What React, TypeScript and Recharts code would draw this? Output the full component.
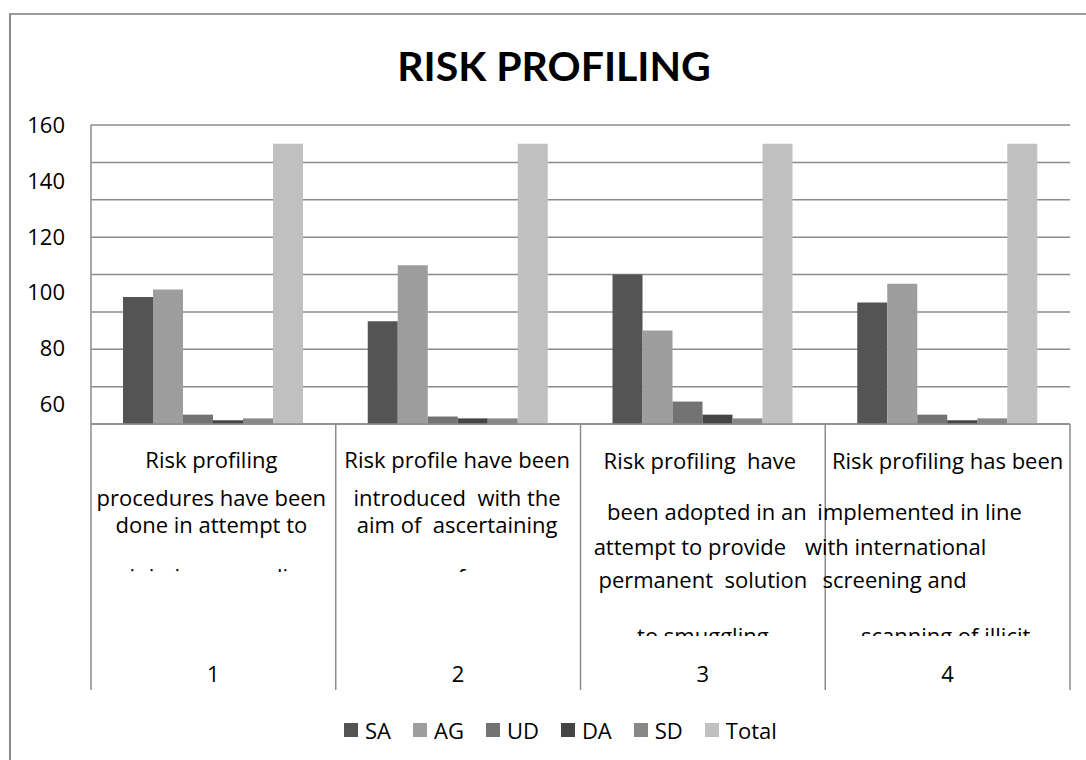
import React from "react";
import {
  BarChart,
  Bar,
  XAxis,
  YAxis,
  CartesianGrid,
  Legend,
} from "recharts";

const categories = ["1", "2", "3", "4"];
const saValues = [68, 55, 80, 65];
const agValues = [72, 85, 50, 75];
const udValues = [5, 4, 12, 5];
const daValues = [2, 3, 5, 2];
const sdValues = [3, 3, 3, 3];
const totalValues = [150, 150, 150, 150];

const gridTicks = [0, 20, 40, 60, 80, 100, 120, 140, 160];
const yTickLabels = [60, 80, 100, 120, 140, 160];

const categoryLabels = [
  ["Risk profiling", "procedures have been", "done in attempt to", "minimise smuggling"],
  ["Risk profile have been", "introduced  with the", "aim of  ascertaining", "sources of revenue"],
  ["Risk profiling  have", "been adopted in an", "attempt to provide", "permanent  solution", "to smuggling"],
  ["Risk profiling has been", "implemented in line", "with international", "screening and", "scanning of illicit"],
];

const seriesNames = ["SA", "AG", "UD", "DA", "SD", "Total"];
const seriesColors = ["#545454", "#9d9d9d", "#737373", "#444444", "#878787", "#c0c0c0"];

const data = categories.map((c, i) => ({
  cat: c,
  SA: saValues[i],
  AG: agValues[i],
  UD: udValues[i],
  DA: daValues[i],
  SD: sdValues[i],
  Total: totalValues[i],
}));

// layout
const W = 1086;
const H = 760;
const PLOT_LEFT = 91;
const PLOT_RIGHT = 1070;
const AXIS_H = 266;
const FONT = "'Open Sans', sans-serif";
const TITLE_FONT = "Lato, 'Open Sans', sans-serif";
const FS = 22;
const LINE_COLOR = "#8c8c8c";

// baselines (below the axis line) of the wrapped category text, Excel-style clipping
const LINE_Y = [
  [44, 82, 109, 161],
  [44, 82, 109, 161],
  [45, 96, 131, 164, 220],
  [45, 96, 131, 164, 220],
];
const LINE_DX = [
  [-2, -2, -2, -2],
  [-1, -1, -1, -1],
  [-3, 4, -13, 0, 0],
  [0, -28, -52, -53, -2],
];
const CLIP_H = [148, 148, 212, 212];

function CategoryTick(props: any) {
  const { x, y, payload } = props;
  const i = categories.indexOf(String(payload.value));
  const band = (PLOT_RIGHT - PLOT_LEFT) / categories.length;
  const left = x - band / 2;
  return (
    <g>
      <defs>
        <clipPath id={`cat-clip-${i}`}>
          <rect x={0} y={y} width={W} height={CLIP_H[i]} />
        </clipPath>
      </defs>
      <line x1={left} x2={left} y1={y} y2={y + AXIS_H} stroke={LINE_COLOR} strokeWidth={1.5} />
      {i === categories.length - 1 && (
        <line x1={left + band} x2={left + band} y1={y} y2={y + AXIS_H} stroke={LINE_COLOR} strokeWidth={1.5} />
      )}
      <g clipPath={`url(#cat-clip-${i})`}>
        {categoryLabels[i].map((t, k) => (
          <text
            key={k}
            x={x + LINE_DX[i][k]}
            y={y + LINE_Y[i][k]}
            textAnchor="middle"
            fontFamily={FONT}
            fontSize={FS}
            fill="#000"
            style={{ whiteSpace: "pre" }}
          >
            {t}
          </text>
        ))}
      </g>
      <text x={x} y={y + 258} textAnchor="middle" fontFamily={FONT} fontSize={FS} fill="#000">
        {payload.value}
      </text>
    </g>
  );
}

function LegendContent() {
  return (
    <div style={{ display: "flex", alignItems: "center", fontFamily: FONT, fontSize: FS, lineHeight: 1.2, color: "#000" }}>
      {seriesNames.map((n, i) => (
        <div key={n} style={{ display: "flex", alignItems: "center", marginRight: 22 }}>
          <span style={{ width: 14, height: 14, background: seriesColors[i], display: "inline-block", marginRight: 7 }} />
          <span>{n}</span>
        </div>
      ))}
    </div>
  );
}

export default function App() {
  return (
    <div style={{ position: "absolute", left: 0, top: 0, width: W, height: H, background: "#fff", overflow: "hidden" }}>
      <div
        style={{
          position: "absolute",
          left: 9,
          top: 13,
          width: W + 20,
          height: H + 20,
          borderLeft: "2px solid #8a8a8a",
          borderTop: "2px solid #9a9a9a",
        }}
      />
      <div
        style={{
          position: "absolute",
          left: 0,
          width: 1108,
          top: 41,
          textAlign: "center",
          fontFamily: TITLE_FONT,
          fontWeight: 700,
          fontSize: 41,
          lineHeight: 1.2,
          color: "#000",
        }}
      >
        RISK PROFILING
      </div>
      <div style={{ position: "absolute", left: 0, top: 0 }}>
        <BarChart
          width={W}
          height={H}
          data={data}
          margin={{ top: 125, left: PLOT_LEFT - 60, right: W - PLOT_RIGHT, bottom: H - 424 - AXIS_H }}
          barCategoryGap={32}
          barGap={0}
        >
          <CartesianGrid yAxisId="data" vertical={false} stroke={LINE_COLOR} strokeWidth={1.5} />
          <XAxis
            dataKey="cat"
            height={AXIS_H}
            tickSize={0}
            tickMargin={0}
            tickLine={false}
            axisLine={{ stroke: LINE_COLOR, strokeWidth: 1.5 }}
            tick={<CategoryTick />}
            interval={0}
          />
          <YAxis yAxisId="data" domain={[0, 160]} ticks={gridTicks} width={0} hide />
          <YAxis
            yAxisId="labels"
            domain={[53, 160]}
            ticks={yTickLabels}
            allowDataOverflow
            width={60}
            tickSize={0}
            tickMargin={26}
            tickLine={false}
            axisLine={{ stroke: LINE_COLOR, strokeWidth: 1.5 }}
            tick={{ fontFamily: FONT, fontSize: FS, fill: "#000" }}
          />
          {seriesNames.map((n, i) => (
            <Bar key={n} yAxisId="data" dataKey={n} fill={seriesColors[i]} isAnimationActive={false} />
          ))}
          <Legend
            layout="horizontal"
            verticalAlign="middle"
            align="center"
            wrapperStyle={{ left: 344, top: 717, width: "auto" }}
            content={<LegendContent />}
          />
        </BarChart>
      </div>
    </div>
  );
}
